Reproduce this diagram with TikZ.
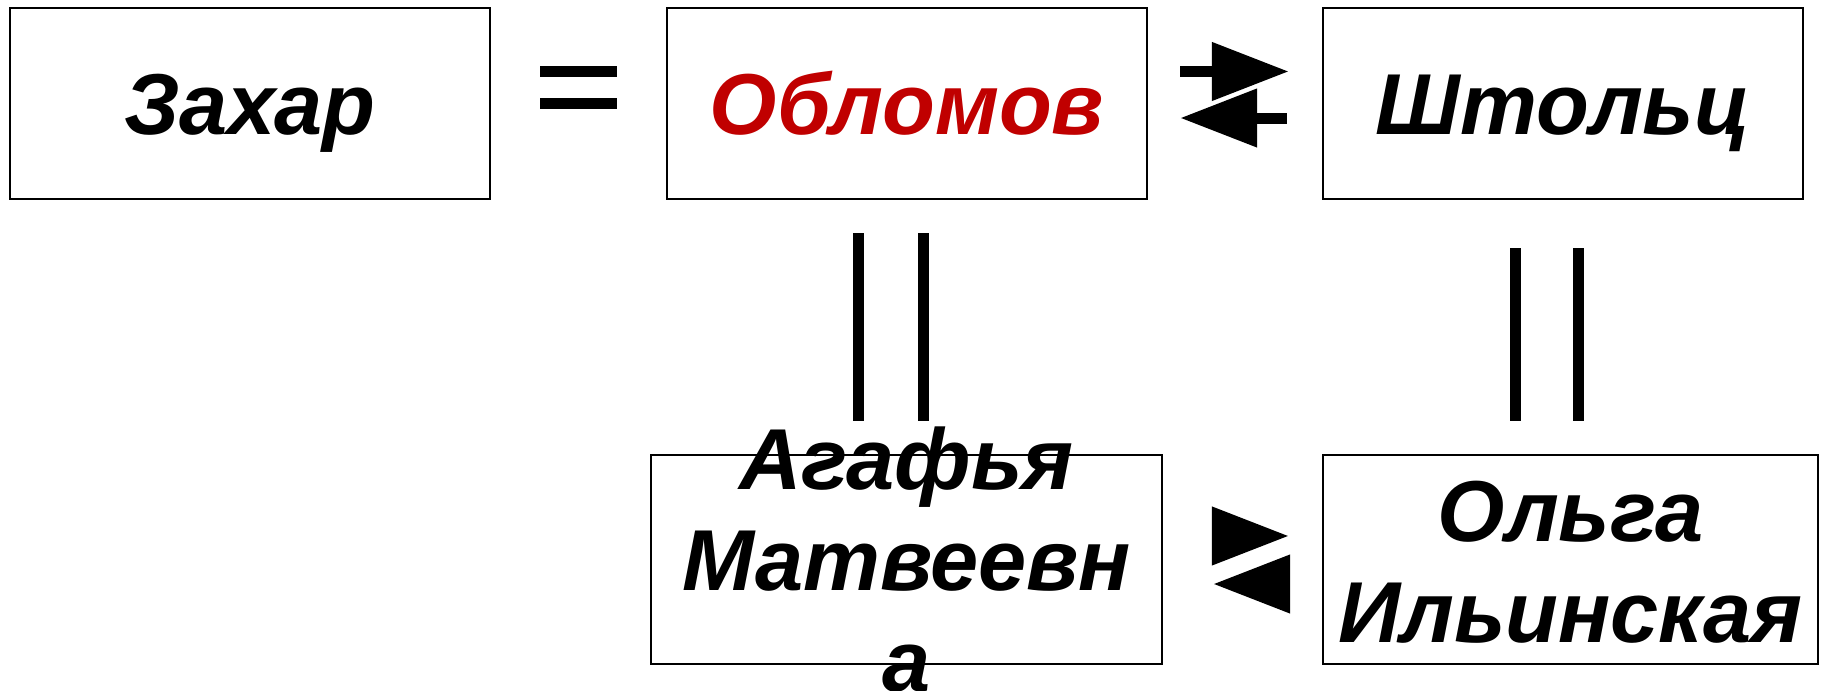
\documentclass[tikz,border=0pt]{standalone}
\usepackage{fontspec}
\setmainfont{Liberation Sans}
\usepackage{xcolor}
\usetikzlibrary{arrows.meta}

\definecolor{oblred}{HTML}{C00000}

\begin{document}
\begin{tikzpicture}[x=0.01cm,y=-0.01cm,
        hero/.style={font=\bfseries\itshape\fontsize{24.6pt}{28.7pt}\selectfont},
        box/.style={draw,line width=0.02cm,inner sep=0pt,minimum width=4.8cm,minimum height=1.91cm,
            hero,text height=17.6pt,text depth=0pt},
        lowbox/.style={draw,line width=0.02cm,inner sep=0pt,minimum height=2.09cm},
        lowtext/.style={hero,align=center,inner sep=0pt},
        bar/.style={line width=0.11cm},
        arr/.style={line width=0.11cm,-{Triangle[length=0.77cm,width=0.56cm]}}]
        \useasboundingbox (0,0) rectangle (1826,691);
        % top row
        \node[box] (zakhar) at (250,103.5) {Захар};
        \node[box,text=oblred] (oblomov) at (907,103.5) {Обломов};
        \node[box] (stolz) at (1563,103.5) {Штольц};
        % bottom row
        \node[lowbox,minimum width=5.11cm] (agafya) at (906.5,559.5) {};
        \node[lowtext] (agafyatext) at (agafya) {Агафья\\Матвеевн\\а};
        \node[lowbox,minimum width=4.95cm] (olga) at (1570.5,559.5) {};
        \node[lowtext] (olgatext) at ([yshift=-0.03cm]olga.center) {Ольга\\Ильинская};
        % equal signs
        \draw[bar,shorten <=0.49cm,shorten >=0.49cm] ([yshift=0.32cm]zakhar.east) -- ([yshift=0.32cm]oblomov.west);
        \draw[bar,shorten <=0.49cm,shorten >=0.49cm] (zakhar.east) -- (oblomov.west);
        \draw[bar,shorten <=0.33cm,shorten >=0.33cm] ([xshift=-0.48cm]oblomov.south) -- ([xshift=-0.48cm]oblomov.south |- agafya.north);
        \draw[bar,shorten <=0.33cm,shorten >=0.33cm] ([xshift=0.16cm]oblomov.south) -- ([xshift=0.16cm]oblomov.south |- agafya.north);
        \draw[bar,shorten <=0.48cm,shorten >=0.33cm] ([xshift=-0.47cm]stolz.south) -- ([xshift=-0.47cm]stolz.south |- olga.north);
        \draw[bar,shorten <=0.48cm,shorten >=0.33cm] ([xshift=0.15cm]stolz.south) -- ([xshift=0.15cm]stolz.south |- olga.north);
        % arrows
        \draw[arr,shorten <=0.32cm,shorten >=0.33cm] ([yshift=0.32cm]oblomov.east) -- ([yshift=0.32cm]stolz.west);
        \draw[arr,shorten <=0.35cm,shorten >=0.32cm] ([yshift=-0.145cm]stolz.west) -- ([yshift=-0.145cm]oblomov.east);
        \draw[arr,shorten <=0.49cm,shorten >=0.33cm] ([yshift=0.235cm]agafya.east) -- ([yshift=0.235cm]olga.west);
        \draw[arr,shorten <=0.33cm,shorten >=0.50cm] ([yshift=-0.245cm]olga.west) -- ([yshift=-0.245cm]agafya.east);
\end{tikzpicture}
\end{document}
